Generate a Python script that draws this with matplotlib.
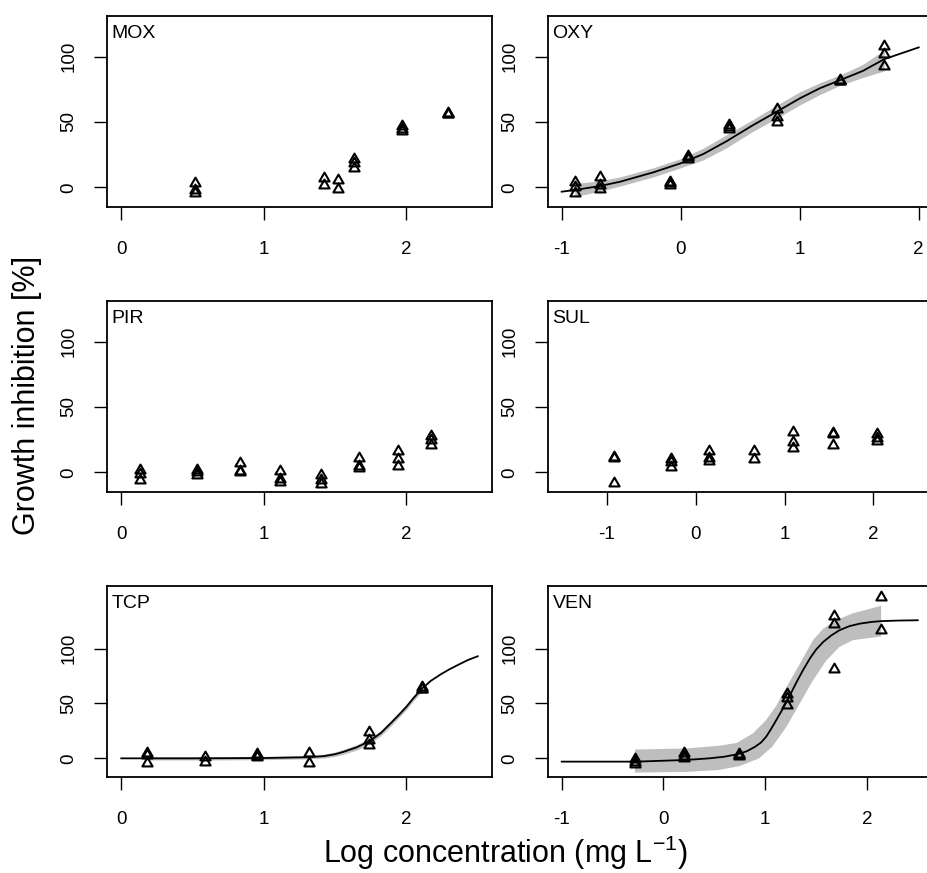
import numpy as np
import matplotlib
matplotlib.use('Agg')
import matplotlib.pyplot as plt
from matplotlib.path import Path

plt.rcParams['font.family'] = ['Liberation Sans', 'DejaVu Sans']
plt.rcParams['mathtext.fontset'] = 'custom'
plt.rcParams['mathtext.rm'] = 'Liberation Sans'
plt.rcParams['mathtext.it'] = 'Liberation Sans:italic'
plt.rcParams['axes.unicode_minus'] = False

# 数据：log浓度 与 生长抑制率
mox_conc = [0.52, 0.52, 0.52, 1.42, 1.42, 1.52, 1.52, 1.63, 1.63, 1.63, 1.97, 1.97, 1.97, 2.29, 2.29, 2.29]
mox_resp = [3, -2, -4, 7, 2, 6, -1, 22, 19, 15, 47, 45, 43, 57, 56, 56]

oxy_conc = [-0.89, -0.89, -0.89, -0.68, -0.68, -0.68, -0.09, -0.09, -0.09, 0.06, 0.06, 0.06,
            0.41, 0.41, 0.41, 0.81, 0.81, 0.81, 1.34, 1.34, 1.34, 1.71, 1.71, 1.71]
oxy_resp = [4, 0, -4, 8, 2, -1, 4, 3, 2, 24, 23, 22, 48, 46, 45, 60, 54, 50, 82, 81, 81, 108, 102, 93]
oxy_fit_x = [-1.0, -0.89, -0.68, -0.51, -0.23, 0.0, 0.19, 0.38, 0.61, 0.81, 1.0, 1.17, 1.34, 1.53, 1.71, 2.0]
oxy_fit_y = [-3.3, -2, 1, 4.3, 11.5, 18.4, 25.5, 35, 47.7, 58, 68, 75.8, 82, 89, 98, 107]
oxy_band_x = [-0.89, -0.68, -0.51, -0.23, 0.0, 0.19, 0.38, 0.61, 0.81, 1.0, 1.17, 1.34, 1.53, 1.71]
oxy_band_lo = [-7, -3, 1, 8, 15, 21, 30, 43, 53, 63, 71, 78, 84, 89]
oxy_band_hi = [3, 5, 8, 15, 22, 30, 40, 52, 63, 73, 80, 86, 94, 105]

pir_conc = [0.13, 0.13, 0.13, 0.53, 0.53, 0.53, 0.83, 0.83, 0.83, 1.11, 1.11, 1.11,
            1.40, 1.40, 1.40, 1.67, 1.67, 1.67, 1.94, 1.94, 1.94, 2.17, 2.17, 2.17]
pir_resp = [2, -1, -6, 2, 0, -2, 7, 1, 0, 1, -5, -7, -2, -6, -9, 11, 5, 3, 16, 10, 5, 28, 25, 21]

sul_conc = [-0.92, -0.92, -0.92, -0.28, -0.28, -0.28, 0.15, 0.15, 0.15, 0.66, 0.66,
            1.09, 1.09, 1.09, 1.54, 1.54, 1.54, 2.04, 2.04, 2.04]
sul_resp = [12, 11, -8, 10, 8, 4, 16, 11, 9, 16, 10, 31, 23, 19, 30, 29, 21, 29, 26, 24]

tcp_conc = [0.18, 0.18, 0.18, 0.59, 0.59, 0.95, 0.95, 0.95, 1.32, 1.32, 1.74, 1.74, 1.74, 2.11, 2.11, 2.11]
tcp_resp = [5, 3, -4, 1, -3, 4, 2, 1, 5, -4, 24, 17, 12, 65, 63, 63]
tcp_fit_x = [0.0, 0.5, 1.0, 1.3, 1.42, 1.5, 1.56, 1.65, 1.74, 1.82, 1.89, 1.95, 2.0, 2.05, 2.11,
             2.17, 2.24, 2.3, 2.36, 2.43, 2.5]
tcp_fit_y = [0, 0, 0.3, 1, 2, 3.8, 6, 10, 15.5, 23, 32, 40, 47, 55, 63.6,
             70.5, 76.5, 81, 85, 89.5, 93]
tcp_band_x = [0.18, 0.6, 1.0, 1.3, 1.42, 1.5, 1.56, 1.65, 1.74, 1.82, 1.89, 1.95, 2.0, 2.05, 2.11]
tcp_band_lo = [-1.5, -1.5, -1.2, -0.5, 0.3, 1.8, 3.8, 7.5, 13, 20.5, 29.5, 37.5, 44.5, 52.5, 61]
tcp_band_hi = [1.5, 1.5, 1.8, 2.5, 3.8, 5.8, 8.2, 12.5, 18, 25.5, 34.5, 42.5, 49.5, 57.5, 66]

ven_conc = [-0.28, -0.28, -0.28, 0.20, 0.20, 0.20, 0.74, 0.74, 0.74, 1.21, 1.21, 1.21,
            1.68, 1.68, 1.68, 2.14, 2.14]
ven_resp = [-1, -3, -5, 5, 2, 0, 4, 3, 2, 59, 55, 49, 130, 122, 81, 147, 117]
ven_fit_x = [-1.0, -0.27, 0.22, 0.45, 0.6, 0.74, 0.82, 0.9, 0.96, 1.01, 1.06, 1.11, 1.16, 1.21,
             1.26, 1.31, 1.37, 1.44, 1.5, 1.57, 1.65, 1.73, 1.83, 1.93, 2.05, 2.14, 2.3, 2.5]
ven_fit_y = [-3, -3, -1.5, 0, 1.5, 4, 6.5, 10.5, 14.5, 19.7, 27, 35, 43, 51.5,
             60.5, 69.7, 80, 91, 99, 106, 112, 116.7, 120.5, 122.7, 124.3, 125, 125.5, 125.8]
# 置信带：上沿、下沿
ven_hi_x = [-0.28, 0.22, 0.55, 0.72, 0.88, 1.01, 1.11, 1.21, 1.34, 1.47, 1.57, 1.7, 1.86, 2.14]
ven_hi_y = [8, 9, 11.5, 14, 22.7, 35, 48, 65, 86, 107.6, 118, 126, 132, 139]
ven_lo_x = [-0.28, 0.22, 0.55, 0.75, 0.94, 1.07, 1.21, 1.34, 1.47, 1.6, 1.73, 1.86, 2.14]
ven_lo_y = [-13, -12.4, -10.6, -7, 0, 10.6, 28.8, 50, 71, 89, 101.5, 107.6, 111]

W, H = 928, 873
fig = plt.figure(figsize=(W / 100, H / 100), dpi=100)

# 三角形标记 (等边, 封闭)
tri = Path([(-1, -0.577), (1, -0.577), (0, 1.155), (-1, -0.577)],
           [Path.MOVETO, Path.LINETO, Path.LINETO, Path.CLOSEPOLY])

# name, conc, resp, fit, band, xlim, xticks, ylim, (left, top) 像素
panels = [
    ('MOX', mox_conc, mox_resp, None, None, (-0.1, 2.6), [0, 1, 2], (-15, 131), (107, 16)),
    ('OXY', oxy_conc, oxy_resp, (oxy_fit_x, oxy_fit_y), (oxy_band_x, oxy_band_lo, oxy_band_hi),
     (-1.115, 2.12), [-1, 0, 1, 2], (-15, 131), (548, 16)),
    ('PIR', pir_conc, pir_resp, None, None, (-0.1, 2.6), [0, 1, 2], (-15, 131), (107, 301)),
    ('SUL', sul_conc, sul_resp, None, None, (-1.66, 2.67), [-1, 0, 1, 2], (-15, 131), (548, 301)),
    ('TCP', tcp_conc, tcp_resp, (tcp_fit_x, tcp_fit_y), (tcp_band_x, tcp_band_lo, tcp_band_hi),
     (-0.1, 2.6), [0, 1, 2], (-17, 157), (107, 586)),
    ('VEN', ven_conc, ven_resp, (ven_fit_x, ven_fit_y), 'ven',
     (-1.135, 2.65), [-1, 0, 1, 2], (-17, 157), (548, 586)),
]

pw, ph = 385, 191
for name, cx, cy, fit, band, xlim, xt, ylim, (px, py) in panels:
    ax = fig.add_axes([px / W, 1 - (py + ph) / H, pw / W, ph / H])
    if band == 'ven':
        ax.fill(ven_hi_x + ven_lo_x[::-1], ven_hi_y + ven_lo_y[::-1], color='#bebebe', lw=0)
    elif band is not None:
        ax.fill_between(band[0], band[1], band[2], color='#bebebe', lw=0)
    if fit is not None:
        ax.plot(fit[0], fit[1], color='black', lw=1.3)
    ax.plot(cx, cy, ls='none', marker=tri, ms=8.5, mfc='none', mec='black', mew=1.5)
    ax.set_xlim(xlim)
    ax.set_ylim(ylim)
    ax.set_xticks(xt)
    ax.set_yticks([0, 50, 100])
    ax.tick_params(direction='out', length=9.4, width=1, labelsize=13.5)
    ax.tick_params(axis='x', pad=15)
    ax.tick_params(axis='y', pad=12)
    for lab in ax.get_yticklabels():
        lab.set_rotation(90)
        lab.set_va('center')
    for s in ax.spines.values():
        s.set_linewidth(1.3)
    ax.text(0.012, 1 - 22 / ph, name, transform=ax.transAxes, fontsize=14, va='baseline', ha='left')

fig.text(27 / W, 1 - 395 / H, 'Growth inhibition [%]', rotation=90, fontsize=22, ha='center', va='center')
fig.text(505 / W, 1 - 863 / H, 'Log concentration (mg L$^{-1}$)', fontsize=22, ha='center', va='baseline')

plt.savefig('out.png', dpi=100)
